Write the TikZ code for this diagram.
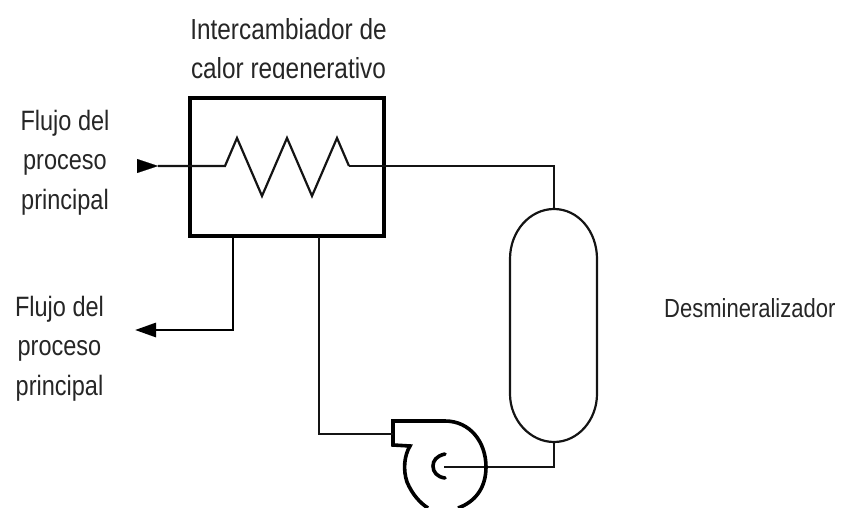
\documentclass[tikz,border=0pt]{standalone}
\usepackage{fontspec}
\setmainfont[FakeStretch=0.84]{Liberation Sans}
\usetikzlibrary{arrows.meta}
\tikzset{
  lbl/.style={text=black!85, align=center, inner sep=0pt},
  bigfont/.style={font=\fontsize{28}{39.5}\selectfont},
  thinline/.style={line width=2.2pt, line join=miter, black!92},
  medline/.style={line width=2.9pt, black, line join=miter},
  heavy/.style={line width=4pt, black, line join=miter},
  pumpline/.style={line width=3.6pt, black, line join=miter},
  righttip/.style={line width=0.1pt,-{Triangle[length=21pt,width=14pt]}},
  lefttip/.style={line width=2.9pt,-{Triangle[length=21pt,width=14pt]}}
}
\begin{document}
\begin{tikzpicture}[x=1pt,y=-1pt]
\useasboundingbox (0,0) rectangle (851,508);
\node[lbl,font=\fontsize{29}{39}\selectfont] (title) at (288.5,52) {Intercambiador de\\calor regenerativo};
\fill[white] (190,79.5) rectangle (390,92);
\node[lbl,bigfont] (inlab) at (65,162.5) {Flujo del\\proceso\\principal};
\node[lbl,bigfont] (outlab) at (59.5,348.5) {Flujo del\\proceso\\principal};
\node[lbl,font=\fontsize{26.2}{39}\selectfont,anchor=west] (dem) at (664,308) {Desmineralizador};
\node[draw,heavy,minimum width=193.5pt,minimum height=138.5pt,inner sep=0pt,outer sep=0pt] (hx) at (287.2,167) {};
\coordinate (inA) at (158,166);
\coordinate (inT) at (137,166);
\coordinate (z0) at (225,166);
\coordinate (z1) at (349,166);
\coordinate (outA) at (233,237);
\coordinate (outB) at (233,330);
\coordinate (outT) at (135,330);
\coordinate (retA) at (319,237);
\coordinate (retB) at (319,434);
\coordinate (pin) at (393,434);
\coordinate (vt) at (554,209);
\coordinate (vb) at (554,442);
\coordinate (pc) at (444,467);
% inlet and coil
\draw[righttip] (inT) -- (inA);
\draw[thinline] (inA) -- (z0) -- (237,138) -- (262,196) -- (287,138) -- (312,196) -- (337,138) -- (z1);
% to the vessel
\draw[thinline] (z1) -| (vt);
% vessel
\draw[thinline] (510,259) .. controls (510,231) and (530,209) .. (vt) .. controls (578,209) and (597,231) .. (597,259)
  -- (597,394) .. controls (597,420) and (578,442) .. (vb) .. controls (530,442) and (510,420) .. (510,394) -- cycle;
% vessel to pump
\draw[thinline] (vb) |- (pc);
% pump
\draw[pumpline] (428,508) .. controls (420,503) and (412,494) .. (407,482)
  .. controls (403,470) and (404,456) .. (410,446) -- (393,445) -- (393,421) -- (445,421)
  .. controls (470,421) and (486,442) .. (486,467) .. controls (486,488) and (475,502) .. (458,508);
\draw[pumpline,line cap=round] (445,454) .. controls (436,456) and (433,461) .. (433,466) .. controls (433,472) and (437,477) .. (445,478);
% pump to exchanger
\draw[thinline] (pin) -- (retB) -- (retA);
% outlet
\draw[medline] (outA) -- (outB) -- (156,330);
\draw[lefttip] (156,330) -- (outT);
\end{tikzpicture}
\end{document}
